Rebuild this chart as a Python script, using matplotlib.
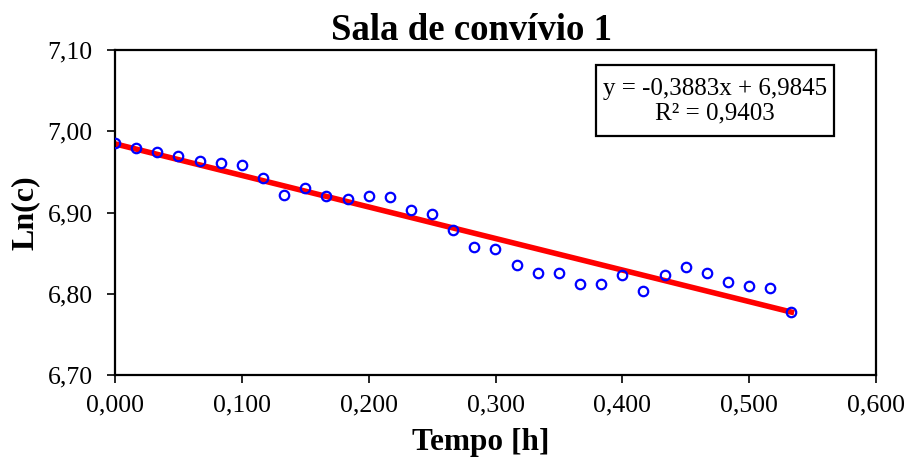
import numpy as np
import matplotlib
matplotlib.use("Agg")
import matplotlib.pyplot as plt
from matplotlib.patches import Rectangle
from matplotlib.ticker import FuncFormatter, MultipleLocator

# Data (tempo em horas, ln da concentração)
tempo = [i / 60 for i in range(33)]
ln_c = [6.985, 6.980, 6.975, 6.970, 6.964, 6.961, 6.959, 6.942, 6.922, 6.930,
        6.920, 6.917, 6.920, 6.919, 6.903, 6.898, 6.879, 6.857, 6.855, 6.835,
        6.826, 6.825, 6.812, 6.812, 6.823, 6.804, 6.823, 6.833, 6.826, 6.815,
        6.809, 6.807, 6.777]
slope = -0.3883
intercept = 6.9845
r2 = 0.9403

plt.rcParams['font.family'] = ['Liberation Serif', 'DejaVu Serif']

fig = plt.figure(figsize=(9.09, 4.63), dpi=100)
ax = fig.add_axes([115 / 909, 1 - 375 / 463, (876 - 115) / 909, (375 - 50) / 463])

ax.plot(tempo, ln_c, 'o', mfc='none', mec='#0000ff', mew=1.6, ms=6.8, zorder=3)
xf = np.array([tempo[0], tempo[-1]])
ax.plot(xf, slope * xf + intercept, color='#ff0000', lw=4, zorder=2)

ax.set_xlim(0, 0.6)
ax.set_ylim(6.70, 7.10)
ax.xaxis.set_major_locator(MultipleLocator(0.1))
ax.yaxis.set_major_locator(MultipleLocator(0.1))
ax.xaxis.set_major_formatter(FuncFormatter(lambda v, p: f"{v:.3f}".replace('.', ',')))
ax.yaxis.set_major_formatter(FuncFormatter(lambda v, p: f"{v:.2f}".replace('.', ',')))
ax.tick_params(direction='out', length=6, width=1.2, labelsize=18.5)
ax.tick_params(axis='x', pad=8)
ax.tick_params(axis='y', pad=10)
for s in ax.spines.values():
    s.set_linewidth(1.6)

ax.set_title('Sala de convívio 1', fontsize=26.5, fontweight='bold', pad=7, x=0.468)
ax.set_xlabel('Tempo [h]', fontsize=22.5, fontweight='bold')
ax.xaxis.set_label_coords(0.48, -0.162, transform=ax.transAxes)
ax.xaxis.label.set_va('top')
ax.set_ylabel('Ln(c)', fontsize=23, fontweight='bold', labelpad=6)

# caixa da equação da linha de tendência
ax.add_patch(Rectangle((0.632, 0.735), 0.3127, 0.218, transform=ax.transAxes,
                       fc='white', ec='black', lw=1.6, zorder=4))
eq = f"y = {slope:.4f}x + {intercept:.4f}".replace('.', ',')
r2txt = f"R² = {r2:.4f}".replace('.', ',')
ax.text(0.788, 0.843, eq + "\n" + r2txt, transform=ax.transAxes,
        ha='center', va='center', fontsize=18, linespacing=1.13, zorder=5)

fig.savefig('out.png', dpi=100)
